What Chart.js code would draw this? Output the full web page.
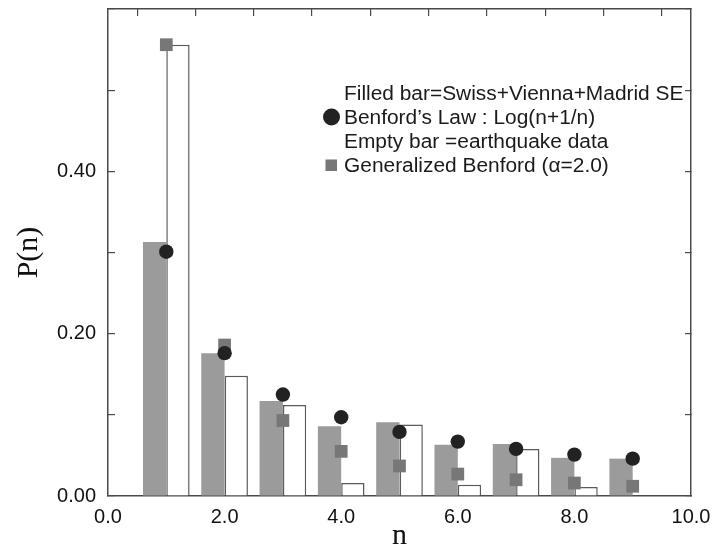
<!DOCTYPE html>
<html>
<head>
<meta charset="utf-8">
<script src="https://cdn.jsdelivr.net/npm/chart.js@4.4.1/dist/chart.umd.min.js"></script>
<style>
  html, body { margin: 0; padding: 0; background: #ffffff; }
  #wrap { width: 719px; height: 548px; position: relative; }
</style>
</head>
<body>
<div id="wrap"><canvas id="c" width="719" height="548"></canvas></div>
<script>
// ---- data ----
const categories = [1, 2, 3, 4, 5, 6, 7, 8, 9];
const filledBar = [0.313, 0.176, 0.117, 0.086, 0.091, 0.063, 0.064, 0.047, 0.046];   // Swiss+Vienna+Madrid SE
const emptyBar  = [0.556, 0.148, 0.112, 0.016, 0.088, 0.014, 0.058, 0.011, null];    // earthquake data
const benford   = [0.301, 0.176, 0.125, 0.097, 0.079, 0.067, 0.058, 0.051, 0.046];   // Benford's law
const genBenford = [0.556, 0.186, 0.093, 0.055, 0.037, 0.027, 0.020, 0.016, 0.012];  // generalized Benford
const legendLines = [
  { text: 'Filled bar=Swiss+Vienna+Madrid SE', marker: null },
  { text: 'Benford\u2019s Law : Log(n+1/n)', marker: 'circle' },
  { text: 'Empty bar =earthquake data', marker: null },
  { text: 'Generalized Benford (\u03b1=2.0)', marker: 'rect' }
];
const xTickLabels = ['0.0', '2.0', '4.0', '6.0', '8.0', '10.0'];
const yTickLabels = ['0.00', '0.20', '0.40'];

const pts = arr => categories.map((n, i) => ({ x: n, y: arr[i] }));

const AXIS = '#4a4a4a';
const SANS = "'Liberation Sans', Arial, sans-serif";
const SERIF = "'Liberation Serif', 'Times New Roman', serif";

const legendPlugin = {
  id: 'textLegend',
  afterDatasetsDraw(chart) {
    const ctx = chart.ctx;
    ctx.save();
    const x0 = 344, y0 = 99.5, dy = 24;
    legendLines.forEach((l, i) => {
      const y = y0 + i * dy;
      ctx.save();
      ctx.font = '20px ' + SANS;
      ctx.fillStyle = '#1a1a1a';
      ctx.textBaseline = 'alphabetic';
      ctx.textAlign = 'left';
      ctx.translate(x0, y);
      ctx.scale(1.045, 1);
      ctx.fillText(l.text, 0, 0);
      ctx.restore();
      if (l.marker === 'circle') {
        ctx.fillStyle = '#222222';
        ctx.beginPath();
        ctx.arc(331.5, y - 6.5, 8.5, 0, Math.PI * 2);
        ctx.fill();
      } else if (l.marker === 'rect') {
        ctx.fillStyle = '#777777';
        ctx.fillRect(325.5, y - 12, 11.5, 11.5);
      }
    });
    ctx.restore();
  }
};

new Chart(document.getElementById('c'), {
  type: 'bar',
  data: {
    datasets: [
      {
        type: 'scatter', label: 'Benford', data: pts(benford), order: 0,
        pointStyle: 'circle', pointRadius: 7.2, pointHoverRadius: 7.2,
        backgroundColor: '#222222', borderColor: '#222222', borderWidth: 0
      },
      {
        type: 'scatter', label: 'Generalized Benford', data: pts(genBenford), order: 1,
        pointStyle: 'rect', pointRadius: 9, pointHoverRadius: 9,
        backgroundColor: '#777777', borderColor: '#777777', borderWidth: 0
      },
      {
        type: 'bar', label: 'Filled bar', data: pts(filledBar), order: 2,
        backgroundColor: '#9b9b9b', borderWidth: 0,
        categoryPercentage: 0.8, barPercentage: 1.0
      },
      {
        type: 'bar', label: 'Empty bar', data: pts(emptyBar), order: 3,
        backgroundColor: '#ffffff', borderColor: '#5a5a5a', borderWidth: 1.5,
        categoryPercentage: 0.8, barPercentage: 1.0
      }
    ]
  },
  options: {
    responsive: false,
    animation: false,
    events: [],
    layout: { padding: { top: 9, right: 28, left: 0, bottom: 0 } },
    plugins: { legend: { display: false }, tooltip: { enabled: false } },
    scales: {
      x: {
        type: 'linear', position: 'bottom', min: 0, max: 10, offset: false,
        grid: { display: true, drawOnChartArea: false, drawTicks: false, offset: false },
        border: { display: true, color: AXIS, width: 1.5 },
        ticks: {
          stepSize: 2, padding: 9, color: '#111',
          font: { family: SANS, size: 20 },
          callback: v => xTickLabels[Math.round(v / 2)] ?? ''
        },
        title: {
          display: true, text: 'n', color: '#111',
          font: { family: SERIF, size: 30, lineHeight: 0.8 },
          padding: { top: 0, bottom: 0 }
        },
        afterFit: s => { s.height = 52; s.paddingLeft = 0; s.paddingRight = 0; }
      },
      x2: {
        type: 'linear', position: 'top', min: 0, max: 10, offset: false,
        grid: { display: true, drawOnChartArea: false, drawTicks: true, tickLength: -7, color: AXIS, lineWidth: 1.2 },
        border: { display: true, color: AXIS, width: 1.5 },
        ticks: { display: false, stepSize: 1 },
        afterFit: s => { s.height = 0; s.paddingLeft = 0; s.paddingRight = 0; }
      },
      y: {
        type: 'linear', position: 'left', min: 0, max: 0.6,
        grid: { display: true, drawOnChartArea: false, drawTicks: true, tickLength: -7, color: AXIS, lineWidth: 1.2 },
        border: { display: true, color: AXIS, width: 1.5 },
        ticks: {
          stepSize: 0.1, padding: 19, color: '#111',
          font: { family: SANS, size: 20 },
          callback: v => {
            const k = Math.round(v * 10);
            return (k % 2 === 0 && k / 2 < yTickLabels.length) ? yTickLabels[k / 2] : '';
          }
        },
        title: {
          display: true, text: 'P(n)', color: '#111',
          font: { family: SERIF, size: 30, lineHeight: 1.2 },
          padding: { top: 11, bottom: 0 }
        },
        afterFit: s => { s.width = 108; s.paddingTop = 0; s.paddingBottom = 0; }
      },
      y2: {
        type: 'linear', position: 'right', min: 0, max: 0.6,
        grid: { display: true, drawOnChartArea: false, drawTicks: true, tickLength: -6, color: AXIS, lineWidth: 1.2 },
        border: { display: true, color: AXIS, width: 1.5 },
        ticks: { display: false, stepSize: 0.1 },
        afterFit: s => { s.width = 0; s.paddingTop = 0; s.paddingBottom = 0; }
      }
    }
  },
  plugins: [legendPlugin]
});
</script>
</body>
</html>
